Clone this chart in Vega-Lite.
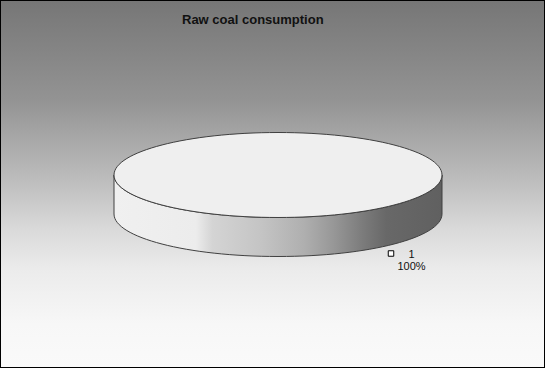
{
  "$schema": "https://vega.github.io/schema/vega-lite/v6.json",
  "width": 545,
  "height": 368,
  "padding": 0,
  "autosize": {"type": "none"},
  "view": {
    "fill": {
      "gradient": "linear", "x1": 0, "y1": 0, "x2": 0, "y2": 1,
      "stops": [
        {"offset": 0, "color": "#767676"},
        {"offset": 0.27, "color": "#939393"},
        {"offset": 0.49, "color": "#bdbdbd"},
        {"offset": 0.62, "color": "#d9d9d9"},
        {"offset": 0.73, "color": "#ebebeb"},
        {"offset": 0.88, "color": "#f7f7f7"},
        {"offset": 1, "color": "#fafafa"}
      ]
    },
    "stroke": "black",
    "strokeWidth": 2
  },
  "title": {
    "text": "Raw coal consumption",
    "anchor": "start",
    "frame": "group",
    "dx": 182,
    "offset": -37,
    "baseline": "alphabetic",
    "font": "Liberation Sans",
    "fontSize": 13,
    "fontWeight": "bold",
    "color": "#111111"
  },
  "data": {"values": [{"label": "1", "share": 1}]},
  "layer": [
    {
      "mark": {
        "type": "point",
        "shape": "M-1,0L-1,0.2378C-1,0.3809,-0.5523,0.4969,0,0.4969C0.5523,0.4969,1,0.3809,1,0.2378L1,0C1,0.1431,0.5523,0.2591,0,0.2591C-0.5523,0.2591,-1,0.1431,-1,0Z",
        "size": 107584,
        "filled": true,
        "opacity": 1,
        "fill": {
          "gradient": "linear", "x1": 0, "y1": 0, "x2": 1, "y2": 0,
          "stops": [
            {"offset": 0, "color": "#f0f0f0"},
            {"offset": 0.25, "color": "#ececec"},
            {"offset": 0.3, "color": "#d4d4d4"},
            {"offset": 0.45, "color": "#c4c4c4"},
            {"offset": 0.58, "color": "#afafaf"},
            {"offset": 0.67, "color": "#979797"},
            {"offset": 0.76, "color": "#7b7b7b"},
            {"offset": 0.83, "color": "#686868"},
            {"offset": 1, "color": "#606060"}
          ]
        },
        "stroke": "#404040",
        "strokeWidth": 1,
        "xOffset": 5.5,
        "yOffset": -9
      },
      "encoding": {}
    },
    {
      "mark": {
        "type": "point",
        "shape": "M-1,0C-1,-0.1431,-0.5523,-0.2591,0,-0.2591C0.5523,-0.2591,1,-0.1431,1,0C1,0.1431,0.5523,0.2591,0,0.2591C-0.5523,0.2591,-1,0.1431,-1,0Z",
        "size": 107584,
        "filled": true,
        "opacity": 1,
        "fill": "#efefef",
        "stroke": "#404040",
        "strokeWidth": 1,
        "xOffset": 5.5,
        "yOffset": -9
      },
      "encoding": {}
    },
    {
      "mark": {
        "type": "point",
        "shape": "square",
        "size": 30,
        "filled": true,
        "opacity": 1,
        "fill": "white",
        "stroke": "black",
        "strokeWidth": 1,
        "xOffset": 118.5,
        "yOffset": 69.5
      },
      "encoding": {}
    },
    {
      "mark": {
        "type": "text",
        "font": "Liberation Sans",
        "fontSize": 11,
        "color": "#111111",
        "align": "center",
        "baseline": "alphabetic",
        "xOffset": 139,
        "yOffset": 73.5
      },
      "encoding": {"text": {"field": "label", "type": "nominal"}}
    },
    {
      "mark": {
        "type": "text",
        "font": "Liberation Sans",
        "fontSize": 11,
        "color": "#111111",
        "align": "center",
        "baseline": "alphabetic",
        "xOffset": 139,
        "yOffset": 86
      },
      "encoding": {"text": {"field": "share", "type": "quantitative", "format": ".0%"}}
    }
  ]
}
